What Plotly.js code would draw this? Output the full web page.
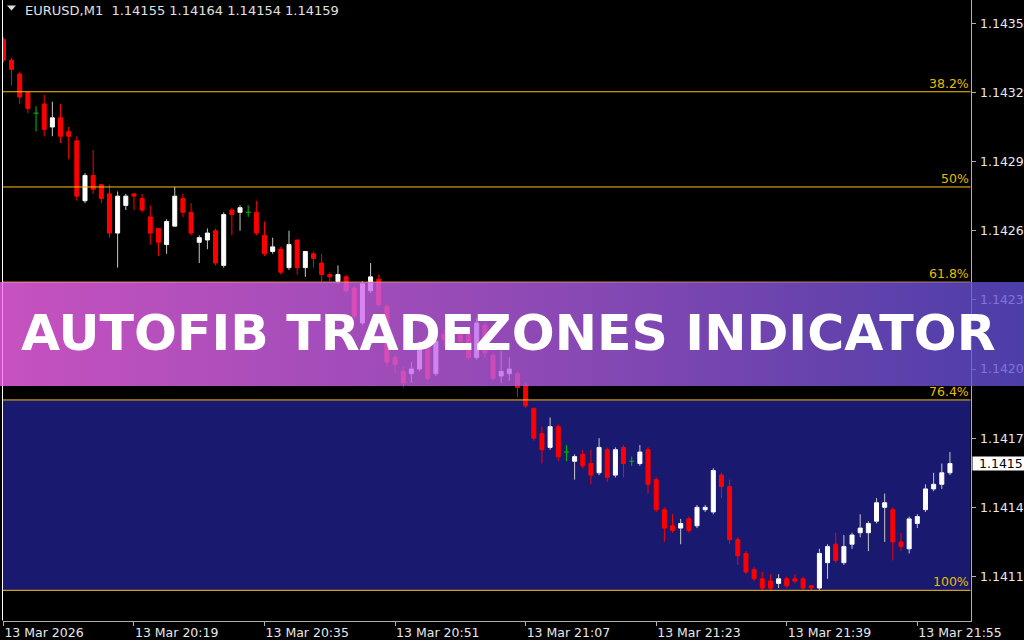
<!DOCTYPE html>
<html>
<head>
<meta charset="utf-8">
<script src="https://cdn.plot.ly/plotly-3.0.1.min.js"></script>
<style>
html,body{margin:0;padding:0;background:#000;overflow:hidden;}
#chart{width:1024px;height:640px;}
</style>
</head>
<body>
<div id="chart"></div>
<script>
// ---------------- DATA ----------------
const symbol = "EURUSD,M1";
const day = "2026-03-13";
const minutes = [
"20:03","20:04","20:05","20:06","20:07","20:08","20:09","20:10","20:11","20:12",
"20:13","20:14","20:15","20:16","20:17","20:18","20:19","20:20","20:21","20:22",
"20:23","20:24","20:25","20:26","20:27","20:28","20:29","20:30","20:31","20:32",
"20:33","20:34","20:35","20:36","20:37","20:38","20:39","20:40","20:41","20:42",
"20:43","20:44","20:45","20:46","20:47","20:48","20:49","20:50","20:51","20:52",
"20:53","20:54","20:55","20:56","20:57","20:58","20:59","21:00","21:01","21:02",
"21:03","21:04","21:05","21:06","21:07","21:08","21:09","21:10","21:11","21:12",
"21:13","21:14","21:15","21:16","21:17","21:18","21:19","21:20","21:21","21:22",
"21:23","21:24","21:25","21:26","21:27","21:28","21:29","21:30","21:31","21:32",
"21:33","21:34","21:35","21:36","21:37","21:38","21:39","21:40","21:41","21:42",
"21:43","21:44","21:45","21:46","21:47","21:48","21:49","21:50","21:51","21:52",
"21:53","21:54","21:55","21:56","21:57","21:58","21:59"];

const open = [
1.14343,1.14334,1.14328,1.14320,1.14311,1.14315,1.14305,1.14309,1.14303,1.14299,
1.14273,1.14284,1.14280,1.14276,1.14259,1.14271,1.14276,1.14274,1.14266,1.14261,
1.14254,1.14262,1.14274,1.14268,1.14255,1.14256,1.14260,1.14245,1.14269,1.14268,
1.14268,1.14268,1.14258,1.14251,1.14252,1.14244,1.14256,1.14244,1.14250,1.14246,
1.14241,1.14238,1.14240,1.14235,1.14220,1.14234,1.14239,1.14227,1.14205,1.14199,
1.14198,1.14200,1.14209,1.14198,1.14215,1.14209,1.14216,1.14215,1.14205,1.14219,
1.14206,1.14197,1.14198,1.14198,1.14193,1.14183,1.14172,1.14166,1.14175,1.14164,
1.14160,1.14163,1.14159,1.14155,1.14165,1.14154,1.14166,1.14160,1.14159,1.14165,
1.14152,1.14139,1.14132,1.14131,1.14135,1.14132,1.14139,1.14138,1.14154,1.14149,
1.14126,1.14120,1.14113,1.14109,1.14108,1.14107,1.14109,1.14109,1.14109,1.14106,
1.14105,1.14116,1.14124,1.14116,1.14124,1.14129,1.14129,1.14134,1.14140,1.14139,
1.14125,1.14122,1.14133,1.14139,1.14148,1.14150,1.14155];

const high = [
1.14344,1.14335,1.14329,1.14320,1.14314,1.14319,1.14316,1.14315,1.14305,1.14301,
1.14285,1.14295,1.14280,1.14280,1.14277,1.14276,1.14276,1.14276,1.14271,1.14261,
1.14265,1.14279,1.14276,1.14272,1.14258,1.14261,1.14261,1.14268,1.14270,1.14271,
1.14271,1.14273,1.14264,1.14257,1.14253,1.14260,1.14256,1.14251,1.14251,1.14250,
1.14242,1.14245,1.14241,1.14236,1.14238,1.14246,1.14241,1.14228,1.14206,1.14201,
1.14203,1.14212,1.14210,1.14217,1.14217,1.14218,1.14218,1.14217,1.14222,1.14220,
1.14207,1.14208,1.14205,1.14199,1.14194,1.14183,1.14175,1.14179,1.14176,1.14167,
1.14163,1.14165,1.14165,1.14170,1.14166,1.14166,1.14167,1.14162,1.14167,1.14166,
1.14153,1.14140,1.14137,1.14135,1.14136,1.14141,1.14141,1.14157,1.14155,1.14152,
1.14127,1.14121,1.14114,1.14112,1.14111,1.14111,1.14110,1.14111,1.14110,1.14106,
1.14122,1.14124,1.14129,1.14128,1.14129,1.14137,1.14134,1.14144,1.14146,1.14140,
1.14129,1.14136,1.14137,1.14150,1.14155,1.14159,1.14164];

const low = [
1.14333,1.14323,1.14315,1.14311,1.14303,1.14301,1.14301,1.14298,1.14291,1.14273,
1.14272,1.14276,1.14272,1.14257,1.14244,1.14269,1.14269,1.14268,1.14254,1.14249,
1.14250,1.14262,1.14266,1.14258,1.14246,1.14252,1.14245,1.14244,1.14258,1.14260,
1.14266,1.14258,1.14249,1.14250,1.14241,1.14243,1.14241,1.14240,1.14244,1.14238,
1.14238,1.14237,1.14233,1.14222,1.14219,1.14233,1.14227,1.14201,1.14198,1.14192,
1.14194,1.14199,1.14195,1.14197,1.14210,1.14208,1.14210,1.14204,1.14204,1.14205,
1.14195,1.14194,1.14195,1.14188,1.14183,1.14169,1.14159,1.14165,1.14160,1.14160,
1.14152,1.14157,1.14150,1.14154,1.14151,1.14153,1.14153,1.14158,1.14158,1.14146,
1.14138,1.14125,1.14129,1.14124,1.14129,1.14131,1.14138,1.14137,1.14144,1.14124,
1.14115,1.14111,1.14108,1.14104,1.14104,1.14105,1.14105,1.14107,1.14104,1.14104,
1.14104,1.14109,1.14116,1.14115,1.14122,1.14127,1.14121,1.14133,1.14125,1.14117,
1.14121,1.14120,1.14131,1.14138,1.14147,1.14148,1.14154];

const close = [
1.14334,1.14330,1.14318,1.14313,1.14311,1.14304,1.14309,1.14301,1.14301,1.14275,
1.14284,1.14278,1.14274,1.14259,1.14275,1.14275,1.14275,1.14269,1.14259,1.14255,
1.14264,1.14275,1.14268,1.14259,1.14257,1.14259,1.14246,1.14267,1.14267,1.14270,
1.14268,1.14259,1.14250,1.14253,1.14242,1.14254,1.14244,1.14251,1.14248,1.14241,
1.14240,1.14241,1.14234,1.14223,1.14237,1.14240,1.14228,1.14203,1.14202,1.14194,
1.14200,1.14210,1.14196,1.14212,1.14213,1.14216,1.14212,1.14205,1.14220,1.14207,
1.14196,1.14199,1.14200,1.14192,1.14184,1.14170,1.14165,1.14175,1.14162,1.14164,
1.14162,1.14158,1.14154,1.14166,1.14153,1.14165,1.14159,1.14160,1.14164,1.14150,
1.14139,1.14131,1.14130,1.14133,1.14130,1.14140,1.14140,1.14156,1.14149,1.14126,
1.14119,1.14112,1.14109,1.14105,1.14105,1.14109,1.14106,1.14108,1.14105,1.14105,
1.14120,1.14123,1.14117,1.14123,1.14128,1.14131,1.14133,1.14142,1.14142,1.14125,
1.14123,1.14135,1.14136,1.14148,1.14150,1.14155,1.14159];

const priceTicks = [1.1435, 1.1432, 1.1429, 1.1426, 1.1423, 1.1420, 1.1417, 1.1414, 1.1411];
const priceTickText = ["1.1435","1.1432","1.1429","1.1426","1.1423","1.1420","1.1417","1.1414","1.1411"];
const currentPriceText = "1.1415";
const timeTicks = ["20:03","20:19","20:35","20:51","21:07","21:23","21:39","21:55"];
const timeTickText = ["13 Mar 2026","13 Mar 20:19","13 Mar 20:35","13 Mar 20:51","13 Mar 21:07","13 Mar 21:23","13 Mar 21:39","13 Mar 21:55"];

const fibHigh = 1.14454;
const fibLow = 1.14104;
const fibRatios = [0.382, 0.5, 0.618, 0.764, 1.0];
const fibLabels = ["38.2%", "50%", "61.8%", "76.4%", "100%"];
const bannerText = "AUTOFIB TRADEZONES INDICATOR";

// ---------------- BUILD ----------------
const W = 1024, H = 640;
const MIN = 60000;
function toMs(hm){ return Date.parse(day + "T" + hm + ":00Z"); }
const t = minutes.map(toMs);
const t0 = toMs(minutes[0]);

const COL_UP = "#ffffff", COL_DN = "#ff0000", COL_DOJI = "#00c000", COL_UPWICK = "#c8c8c8";
const bodyW = 0.49 * MIN;
const dojiHalf = 0.31 * MIN;

const up = {x:[], base:[], y:[]}, dn = {x:[], base:[], y:[]};
const wUp = {x:[], y:[]}, wDn = {x:[], y:[]}, wDoji = {x:[], y:[]};
function seg(obj, x0, y0, x1, y1){ obj.x.push(x0, x1, null); obj.y.push(y0, y1, null); }

for (let i = 0; i < t.length; i++) {
  const o = open[i], h = high[i], l = low[i], c = close[i], x = t[i];
  const top = Math.max(o, c), bot = Math.min(o, c);
  if (c > o) {
    up.x.push(x); up.base.push(o); up.y.push(c - o);
    if (h > top) seg(wUp, x, top, x, h);
    if (l < bot) seg(wUp, x, l, x, bot);
  } else if (c < o) {
    dn.x.push(x); dn.base.push(c); dn.y.push(o - c);
    if (h > top) seg(wDn, x, top, x, h);
    if (l < bot) seg(wDn, x, l, x, bot);
  } else {
    seg(wDoji, x, l, x, h);
    seg(wDoji, x - dojiHalf, o, x + dojiHalf, o);
  }
}

const traces = [
  {type:"bar", x:dn.x, base:dn.base, y:dn.y, width:bodyW,
   marker:{color:COL_DN, line:{color:COL_DN, width:1}}, hoverinfo:"skip", showlegend:false},
  {type:"bar", x:up.x, base:up.base, y:up.y, width:bodyW,
   marker:{color:COL_UP, line:{color:COL_UP, width:1}}, hoverinfo:"skip", showlegend:false},
  {type:"scatter", mode:"lines", x:wDn.x, y:wDn.y, line:{color:COL_DN, width:1}, hoverinfo:"skip", showlegend:false},
  {type:"scatter", mode:"lines", x:wUp.x, y:wUp.y, line:{color:COL_UPWICK, width:1}, hoverinfo:"skip", showlegend:false},
  {type:"scatter", mode:"lines", x:wDoji.x, y:wDoji.y, line:{color:COL_DOJI, width:1}, hoverinfo:"skip", showlegend:false}
];

// axis geometry (pixels)
const plotLeft = 3, plotRight = 970.5, plotBottom = 620.5;
const pxPerMin = 8.16, firstCandlePx = 3.4;
const xr0 = t0 + ((plotLeft - firstCandlePx) / pxPerMin) * MIN;
const xr1 = t0 + ((plotRight - firstCandlePx) / pxPerMin) * MIN;
const pxPerPrice = 230500, tickTopPx = 23.3;
const yTop = priceTicks[0] + tickTopPx / pxPerPrice;
const yBot = priceTicks[0] - (plotBottom - tickTopPx) / pxPerPrice;

const AX = "#b0b0b0", TXT = "#e8e8e8";
const tickFont = {family:"DejaVu Sans", size:12.5, color:TXT};

const fibLevel = r => fibHigh - r * (fibHigh - fibLow);
const shapes = [];
const annotations = [];

// trade zone 76.4% .. 100%
shapes.push({type:"rect", layer:"below", xref:"x domain", x0:0, x1:1, yref:"y",
  y0:fibLevel(0.764), y1:fibLevel(1.0), fillcolor:"#191970", line:{width:0}});

// left border
shapes.push({type:"line", layer:"above", xref:"paper", x0:2.5/W, x1:2.5/W, yref:"paper",
  y0:(H-plotBottom)/H, y1:1, line:{color:"#ffffff", width:1}});

// fib lines + labels
fibRatios.forEach((r, k) => {
  const lv = fibLevel(r);
  shapes.push({type:"line", layer:"above", xref:"x domain", x0:0, x1:1, yref:"y", y0:lv, y1:lv,
    line:{color:"#ffc000", width:1}});
  annotations.push({xref:"paper", x:970/W, xanchor:"right", yref:"y", y:lv, yanchor:"bottom",
    yshift:0, text:fibLabels[k], showarrow:false, borderpad:0,
    font:{family:"DejaVu Sans", size:12.5, color:"#e6bc00"}});
});

// banner gradient (semi-transparent strips)
const stops = [[0,[254,105,246]],[0.5,[186,95,233]],[1,[97,79,215]]];
function grad(f){
  for (let s = 0; s < stops.length-1; s++) {
    const a = stops[s], b = stops[s+1];
    if (f <= b[0]) {
      const u = (f - a[0]) / (b[0] - a[0]);
      return a[1].map((v, j) => Math.round(v + (b[1][j] - v) * u));
    }
  }
  return stops[stops.length-1][1];
}
const bannerTop = 282, bannerBot = 386, strip = 8;
for (let px = 0; px < W; px += strip) {
  const c = grad((px + strip/2) / W);
  shapes.push({type:"rect", layer:"above", xref:"paper", yref:"paper",
    x0:px/W, x1:(px+strip)/W, y0:1-bannerBot/H, y1:1-bannerTop/H,
    fillcolor:`rgba(${c[0]},${c[1]},${c[2]},0.78)`, line:{width:0}});
}

// current price box
const last = close.length - 1;
shapes.push({type:"rect", layer:"above", xref:"paper", x0:972.5/W, x1:1.02, yref:"y",
  ysizemode:"pixel", yanchor:close[last], y0:-7, y1:7, fillcolor:"#ffffff", line:{width:0}});
annotations.push({xref:"paper", x:978/W, xanchor:"left", yref:"y", y:close[last], yanchor:"middle",
  text:currentPriceText, showarrow:false, borderpad:0,
  font:{family:"DejaVu Sans", size:12.5, color:"#000000"}});

// header triangle + text
shapes.push({type:"path", layer:"above", xref:"paper", yref:"paper",
  path:`M ${7/W},${1-5.5/H} L ${16/W},${1-5.5/H} L ${11.5/W},${1-10.5/H} Z`,
  fillcolor:"#e0e0e0", line:{width:0}});
annotations.push({xref:"paper", x:24/W, xanchor:"left", yref:"paper", y:1-10.5/H, yanchor:"middle",
  text: symbol + "&nbsp;&nbsp;" + [open[last], high[last], low[last], close[last]].map(v => v.toFixed(5)).join(" "),
  showarrow:false, borderpad:0, font:{family:"DejaVu Sans", size:13, color:"#e0e0e0"}});

// banner title
annotations.push({xref:"paper", x:508.5/W, xanchor:"center", yref:"paper", y:1-332/H, yanchor:"middle",
  text:bannerText, showarrow:false,
  font:{family:"DejaVu Sans", size:50.5, color:"#ffffff", weight:700}});

const layout = {
  width:W, height:H,
  margin:{l:0, r:0, t:0, b:0, pad:0},
  paper_bgcolor:"#000000", plot_bgcolor:"#000000",
  barmode:"overlay", showlegend:false, dragmode:false,
  xaxis:{type:"date", domain:[plotLeft/W, plotRight/W], range:[xr0, xr1], fixedrange:true,
    showgrid:false, zeroline:false, showline:true, linecolor:AX, linewidth:1,
    ticks:"outside", ticklen:4, tickcolor:AX, tickwidth:1,
    tickvals: timeTicks.map(toMs), ticktext: timeTickText, tickfont:tickFont,
    ticklabelposition:"outside right"},
  yaxis:{domain:[(H-plotBottom)/H, 1], range:[yBot, yTop], side:"right", fixedrange:true,
    showgrid:false, zeroline:false, showline:true, linecolor:AX, linewidth:1,
    ticks:"outside", ticklen:4, tickcolor:AX, tickwidth:1, ticklabelstandoff:2,
    tickvals: priceTicks, ticktext: priceTickText, tickfont:tickFont},
  shapes:shapes, annotations:annotations
};

Plotly.newPlot("chart", traces, layout, {staticPlot:true, displayModeBar:false});
</script>
</body>
</html>
